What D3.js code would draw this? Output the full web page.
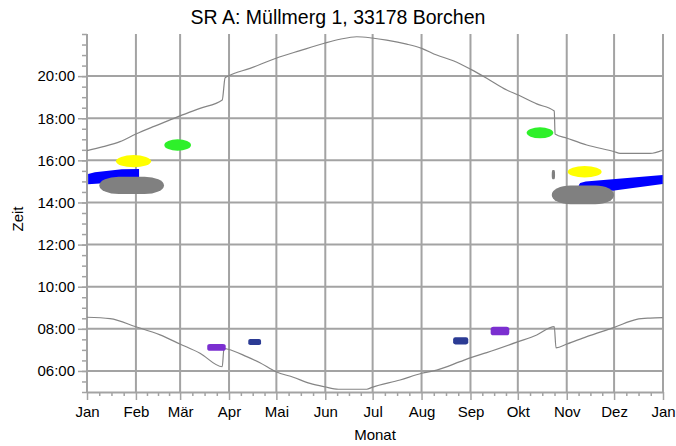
<!DOCTYPE html>
<html>
<head>
<meta charset="utf-8">
<script src="https://cdn.jsdelivr.net/npm/d3@7"></script>
<style>
  body { margin: 0; background: #fff; }
  text { font-family: "Liberation Sans", Arial, sans-serif; fill: #000; }
</style>
</head>
<body>
<svg id="drawing_region"></svg>
<script>
// months: day of year where each month starts
const monthDays   = [0, 31, 59, 90, 120, 151, 181, 212, 243, 273, 304, 334, 365];
const monthLabels = ["Jan", "Feb", "Mär", "Apr", "Mai", "Jun", "Jul", "Aug", "Sep", "Okt", "Nov", "Dez", "Jan"];
const hourTicks   = [6, 8, 10, 12, 14, 16, 18, 20];

// sunset (day of year, hour)
const sunsetDays  = [0, 10.3, 20.9, 31, 42, 52.6, 58.9, 71.6, 85.7, 87.5, 90, 103.3, 119.8, 135, 150.4, 160.3, 170.9, 180.6, 189.9, 202.6, 212.1, 221.6, 232.1, 243.2, 253.3, 266, 273.3, 285, 296.1, 296.6, 304.2, 316.7, 334.2, 337.8, 356.8, 364.8];
const sunsetHours = [16.46, 16.65, 16.89, 17.25, 17.6, 17.92, 18.11, 18.47, 18.87, 19.92, 20.02, 20.37, 20.85, 21.21, 21.56, 21.75, 21.87, 21.81, 21.71, 21.52, 21.32, 21.0, 20.73, 20.32, 19.9, 19.34, 19.1, 18.68, 18.34, 17.25, 17.05, 16.73, 16.41, 16.33, 16.33, 16.48];

// sunrise
const sunriseDays  = [0, 14.6, 31, 46.3, 58.9, 71.6, 85.7, 86.8, 89.5, 101.2, 109.6, 119.8, 130.7, 141.3, 150.4, 159.3, 177.3, 180.6, 198.4, 212.1, 221.6, 236.4, 243.2, 253.3, 273.3, 285, 296.1, 297.2, 304.2, 316.7, 334.2, 348.3, 356.8, 364.8];
const sunriseHours = [8.55, 8.48, 8.1, 7.71, 7.28, 6.84, 6.2, 7.07, 7.03, 6.68, 6.39, 5.96, 5.7, 5.41, 5.25, 5.13, 5.13, 5.22, 5.57, 5.89, 6.04, 6.44, 6.63, 6.87, 7.39, 7.71, 8.1, 7.1, 7.28, 7.63, 8.07, 8.45, 8.51, 8.53];

// shadow periods: day range and time range
const roundBlobs = [
  { group: "gelb",  start: 18.4,  end: 40.6,  low: 15.67, high: 16.25 },
  { group: "gruen", start: 49,    end: 65.9,  low: 16.46, high: 17.0 },
  { group: "gruen", start: 278.6, end: 295.5, low: 17.05, high: 17.57 },
  { group: "gelb",  start: 304.6, end: 326.1, low: 15.19, high: 15.73 }
];
const flatBlobs = [
  { group: "grau",  start: 7.8,   end: 48.8,  low: 14.4,  high: 15.22 },
  { group: "grau",  start: 294.5, end: 334,   low: 13.91, high: 14.8 },
  { group: "grau",  start: 294.5, end: 296.6, low: 15.1,  high: 15.54 },
  { group: "lila",  start: 76.2,  end: 87.9,  low: 6.96,  high: 7.28 },
  { group: "lila",  start: 255.8, end: 267.6, low: 7.69,  high: 8.1 },
  { group: "navy",  start: 102.2, end: 110.3, low: 7.23,  high: 7.52 },
  { group: "navy",  start: 232,   end: 241.6, low: 7.26,  high: 7.6 }
];
const blueLeft  = [[0.7, 14.86], [0.7, 15.35], [5, 15.43], [15, 15.52], [22, 15.58], [33, 15.59], [33, 15.2], [20, 15.0], [8, 14.9]];
const blueRight = [[311.5, 14.8], [312.5, 14.93], [316, 15.0], [333, 15.1], [364.8, 15.3], [364.8, 14.88], [333, 14.56], [316, 14.5]];

const colors = { gelb: "#ffff00", gruen: "#2ef02a", grau: "#808080", lila: "#7b2fd0", navy: "#2b3b94", blau: "#0000ff" };

const config = {
    width: 676,
    height: 446,
    margin: {top: 34, right: 13, bottom: 54, left: 87}
};

const svg = d3.select('#drawing_region')
    .attr('width', config.width)
    .attr('height', config.height);

const inner_width  = config.width - config.margin.left - config.margin.right;
const inner_height = config.height - config.margin.top - config.margin.bottom;

const chart = svg.append('g')
    .attr('transform', `translate(${config.margin.left}, ${config.margin.top})`);

const xscale = d3.scaleLinear().domain([0, 365]).range([0, inner_width]);
const yscale = d3.scaleLinear().domain([5, 22]).range([inner_height, 0]);

const gridColor = "#a3a3a3";

// grid
chart.append('g').selectAll('line')
    .data(monthDays)
    .join('line')
    .attr('x1', d => xscale(d)).attr('x2', d => xscale(d))
    .attr('y1', 0).attr('y2', inner_height)
    .attr('stroke', gridColor).attr('stroke-width', 2);

chart.append('g').selectAll('line')
    .data(hourTicks)
    .join('line')
    .attr('x1', 0).attr('x2', inner_width)
    .attr('y1', d => yscale(d)).attr('y2', d => yscale(d))
    .attr('stroke', gridColor).attr('stroke-width', 2);

// minor ticks
const minorDays = [];
for (let i = 0; i < monthDays.length - 1; i++) {
    for (let k = 1; k < 4; k++) minorDays.push(monthDays[i] + (monthDays[i + 1] - monthDays[i]) * k / 4);
}
const xminor = d3.axisBottom(xscale).tickValues(minorDays).tickSize(4).tickFormat('');
const xaxis  = d3.axisBottom(xscale).tickValues(monthDays).tickSize(8).tickSizeOuter(0).tickPadding(6.5)
    .tickFormat((d, i) => monthLabels[i]);
const yminor = d3.axisLeft(yscale).tickValues(d3.range(5, 22.01, 0.5)).tickSize(5).tickFormat('');
const yaxis  = d3.axisLeft(yscale).tickValues(hourTicks).tickSize(9).tickPadding(3)
    .tickFormat(d => d3.format('02')(d) + ':00');

const styleAxis = g => {
    g.selectAll('.domain').attr('stroke', gridColor).attr('stroke-width', 2);
    g.selectAll('.tick line').attr('stroke', gridColor).attr('stroke-width', 1.5);
    g.selectAll('text').attr('font-size', '15px').attr('font-family', '"Liberation Sans", Arial, sans-serif').attr('fill', '#000');
};

chart.append('g').attr('transform', `translate(0, ${inner_height})`).call(xminor).call(styleAxis)
    .select('.domain').remove();
chart.append('g').attr('transform', `translate(0, ${inner_height})`).call(xaxis).call(styleAxis);
chart.append('g').call(yminor).call(styleAxis).select('.domain').remove();
chart.append('g').call(yaxis).call(styleAxis).select('.domain').remove();

// sun lines
const line = d3.line()
    .x(d => xscale(d[0]))
    .y(d => yscale(d[1]))
    .curve(d3.curveMonotoneX);

chart.append('path')
    .datum(sunsetDays.map((d, i) => [d, sunsetHours[i]]))
    .attr('d', line)
    .attr('fill', 'none').attr('stroke', '#858585').attr('stroke-width', 1.2);

chart.append('path')
    .datum(sunriseDays.map((d, i) => [d, sunriseHours[i]]))
    .attr('d', line)
    .attr('fill', 'none').attr('stroke', '#858585').attr('stroke-width', 1.2);

// blue areas (under the grey ones)
const poly = d3.line()
    .x(d => xscale(d[0]))
    .y(d => yscale(d[1]))
    .curve(d3.curveLinearClosed);

chart.selectAll('.blue')
    .data([blueLeft, blueRight])
    .join('path')
    .attr('class', 'blue')
    .attr('d', poly)
    .attr('fill', colors.blau);

chart.selectAll('.flat')
    .data(flatBlobs)
    .join('rect')
    .attr('class', 'flat')
    .attr('x', d => xscale(d.start))
    .attr('y', d => yscale(d.high))
    .attr('width', d => xscale(d.end) - xscale(d.start))
    .attr('height', d => yscale(d.low) - yscale(d.high))
    .attr('rx', d => (xscale(d.end) - xscale(d.start)) * (d.group === 'grau' ? 0.3 : 0.15))
    .attr('ry', d => (yscale(d.low) - yscale(d.high)) * (d.group === 'grau' ? 0.5 : 0.3))
    .attr('fill', d => colors[d.group]);

chart.selectAll('.round')
    .data(roundBlobs)
    .join('ellipse')
    .attr('class', 'round')
    .attr('cx', d => xscale((d.start + d.end) / 2))
    .attr('cy', d => yscale((d.low + d.high) / 2))
    .attr('rx', d => (xscale(d.end) - xscale(d.start)) / 2)
    .attr('ry', d => (yscale(d.low) - yscale(d.high)) / 2)
    .attr('fill', d => colors[d.group]);

// labels
svg.append('text')
    .attr('x', config.width / 2).attr('y', 24)
    .attr('text-anchor', 'middle')
    .attr('font-size', '19.5px')
    .text('SR A: Müllmerg 1, 33178 Borchen');

svg.append('text')
    .attr('x', config.margin.left + inner_width / 2).attr('y', 440)
    .attr('text-anchor', 'middle')
    .attr('font-size', '15px')
    .text('Monat');

svg.append('text')
    .attr('transform', `translate(23, ${config.margin.top + inner_height / 2 + 6}) rotate(-90)`)
    .attr('text-anchor', 'middle')
    .attr('font-size', '15px')
    .text('Zeit');
</script>
</body>
</html>
